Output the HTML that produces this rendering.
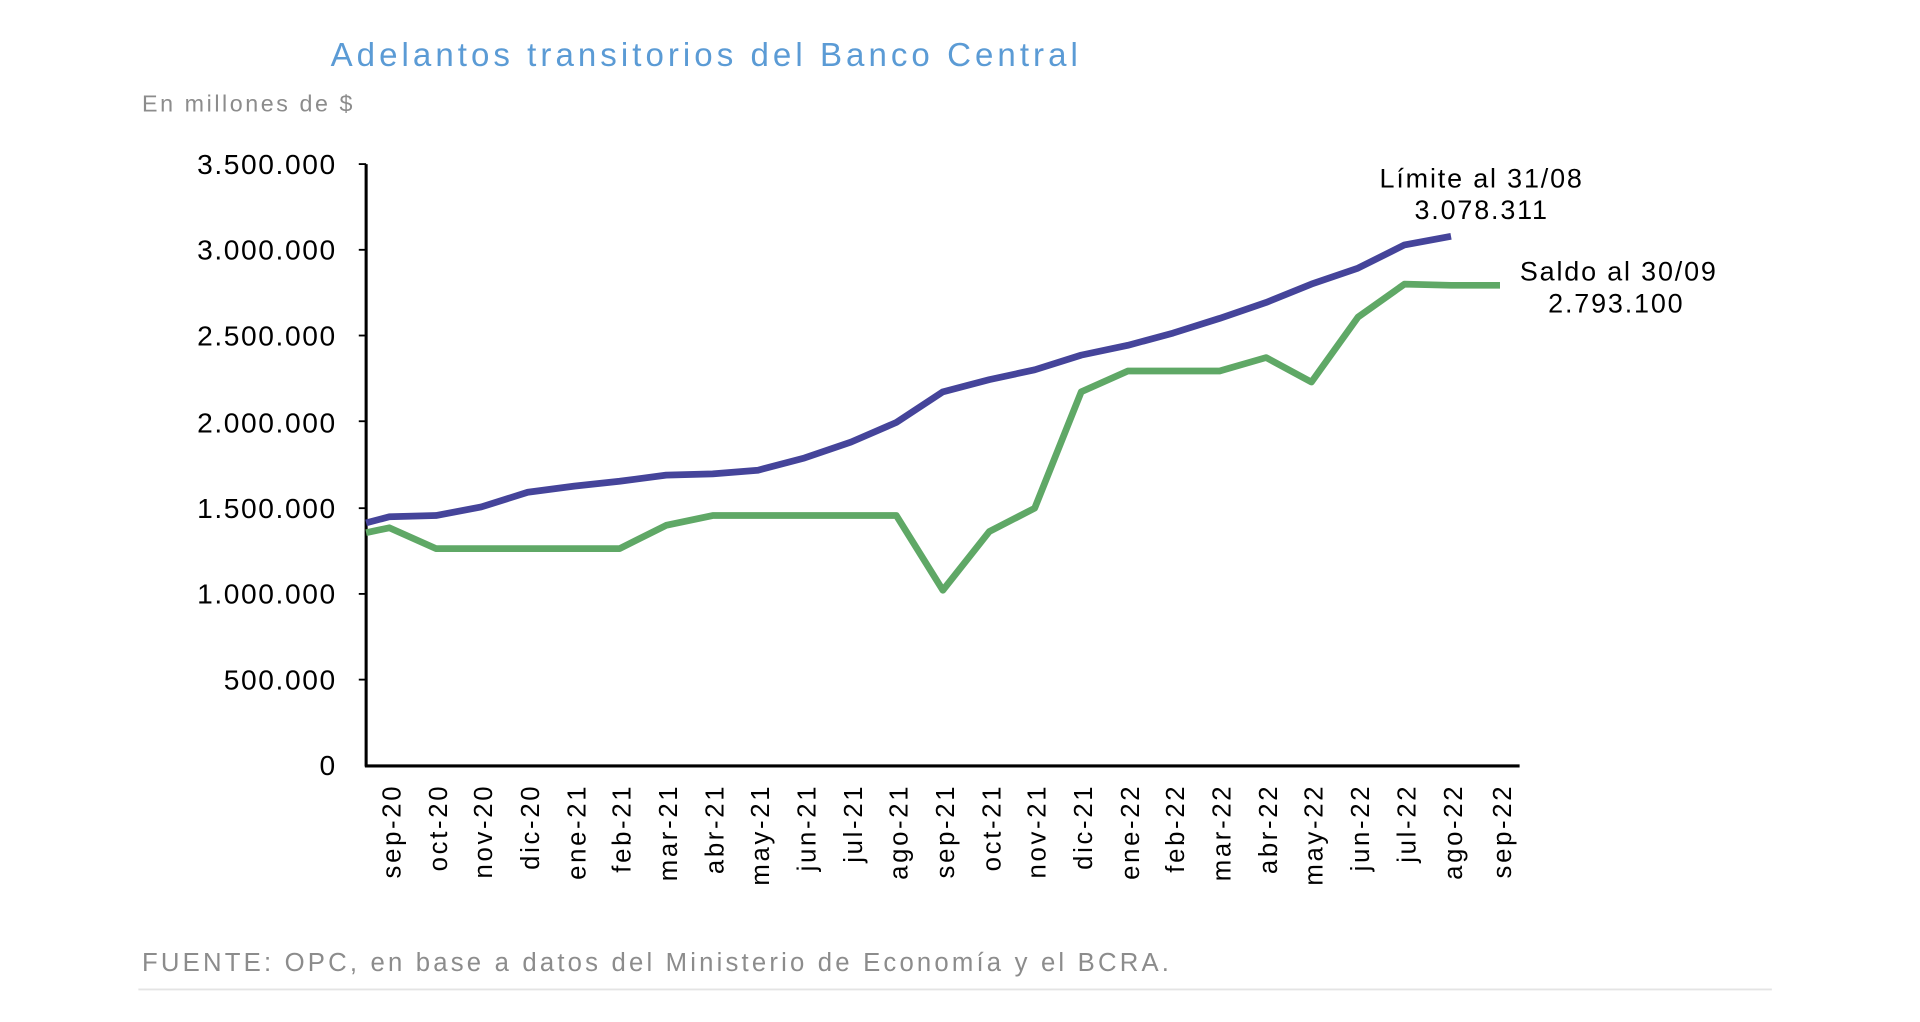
<!DOCTYPE html>
<html><head><meta charset="utf-8"><style>
html,body{margin:0;padding:0;background:#fff;}
svg{display:block;}
text{font-family:"Liberation Sans",sans-serif;}
</style></head><body>
<svg width="1920" height="1022" viewBox="0 0 1568 834.6" preserveAspectRatio="none">
<text x="270" y="54" font-size="27" fill="#5b9bd5" letter-spacing="3.3">Adelantos transitorios del Banco Central</text>
<text x="116" y="91" font-size="19" fill="#8c8c8c" letter-spacing="2.1">En millones de $</text>
<g font-size="23" fill="#000" text-anchor="end" letter-spacing="1.3">
<text x="275" y="142">3.500.000</text>
<text x="275" y="212">3.000.000</text>
<text x="275" y="282">2.500.000</text>
<text x="275" y="353">2.000.000</text>
<text x="275" y="423">1.500.000</text>
<text x="275" y="493">1.000.000</text>
<text x="275" y="563">500.000</text>
<text x="275" y="633">0</text>
</g>
<g stroke="#000" stroke-width="2.5" fill="none">
<line x1="299" y1="134" x2="299" y2="626"/>
<line x1="298" y1="625.5" x2="1241" y2="625.5"/>
<g stroke-width="1.5">
<line x1="293" y1="134" x2="299" y2="134"/><line x1="293" y1="204" x2="299" y2="204"/>
<line x1="293" y1="274" x2="299" y2="274"/><line x1="293" y1="344" x2="299" y2="344"/>
<line x1="293" y1="415" x2="299" y2="415"/><line x1="293" y1="485" x2="299" y2="485"/>
<line x1="293" y1="555" x2="299" y2="555"/>
</g>
</g>
<g font-size="21" fill="#000" text-anchor="end" letter-spacing="2.2">
<text transform="translate(327,640) rotate(-90)">sep-20</text>
<text transform="translate(365,640) rotate(-90)">oct-20</text>
<text transform="translate(402,640) rotate(-90)">nov-20</text>
<text transform="translate(440,640) rotate(-90)">dic-20</text>
<text transform="translate(478,640) rotate(-90)">ene-21</text>
<text transform="translate(515,640) rotate(-90)">feb-21</text>
<text transform="translate(553,640) rotate(-90)">mar-21</text>
<text transform="translate(591,640) rotate(-90)">abr-21</text>
<text transform="translate(628,640) rotate(-90)">may-21</text>
<text transform="translate(666,640) rotate(-90)">jun-21</text>
<text transform="translate(704,640) rotate(-90)">jul-21</text>
<text transform="translate(741,640) rotate(-90)">ago-21</text>
<text transform="translate(779,640) rotate(-90)">sep-21</text>
<text transform="translate(817,640) rotate(-90)">oct-21</text>
<text transform="translate(854,640) rotate(-90)">nov-21</text>
<text transform="translate(892,640) rotate(-90)">dic-21</text>
<text transform="translate(930,640) rotate(-90)">ene-22</text>
<text transform="translate(967,640) rotate(-90)">feb-22</text>
<text transform="translate(1005,640) rotate(-90)">mar-22</text>
<text transform="translate(1043,640) rotate(-90)">abr-22</text>
<text transform="translate(1080,640) rotate(-90)">may-22</text>
<text transform="translate(1118,640) rotate(-90)">jun-22</text>
<text transform="translate(1156,640) rotate(-90)">jul-22</text>
<text transform="translate(1194,640) rotate(-90)">ago-22</text>
<text transform="translate(1234,640) rotate(-90)">sep-22</text>
</g>
<polyline fill="none" stroke="#45449a" stroke-width="5.5" stroke-linejoin="round" points="299,427 318,422 356,421 393,414 431,402 469,397 506,393 544,388 582,387 619,384 657,374 695,361 732,345 770,320 808,310 845,302 883,290 921,282 958,272 996,260 1034,247 1071,232 1109,219 1147,200 1185,193"/>
<polyline fill="none" stroke="#5fa866" stroke-width="5.5" stroke-linejoin="round" points="299,435 318,431 356,448 393,448 431,448 469,448 506,448 544,429 582,421 619,421 657,421 695,421 732,421 770,482 808,434 845,415 883,320 921,303 958,303 996,303 1034,292 1071,312 1109,259 1147,232 1185,233 1225,233"/>
<g font-size="22" fill="#000" text-anchor="middle" letter-spacing="1.5">
<text x="1210" y="153">Límite al 31/08</text>
<text x="1210" y="179">3.078.311</text>
<text x="1322" y="229">Saldo al 30/09</text>
<text x="1320" y="255">2.793.100</text>
</g>
<text x="116" y="793" font-size="21" fill="#8c8c8c" letter-spacing="2.6">FUENTE: OPC, en base a datos del Ministerio de Economía y el BCRA.</text>
<line x1="113" y1="808" x2="1447" y2="808" stroke="#e4e4e4" stroke-width="1.5"/>
</svg>
</body></html>
